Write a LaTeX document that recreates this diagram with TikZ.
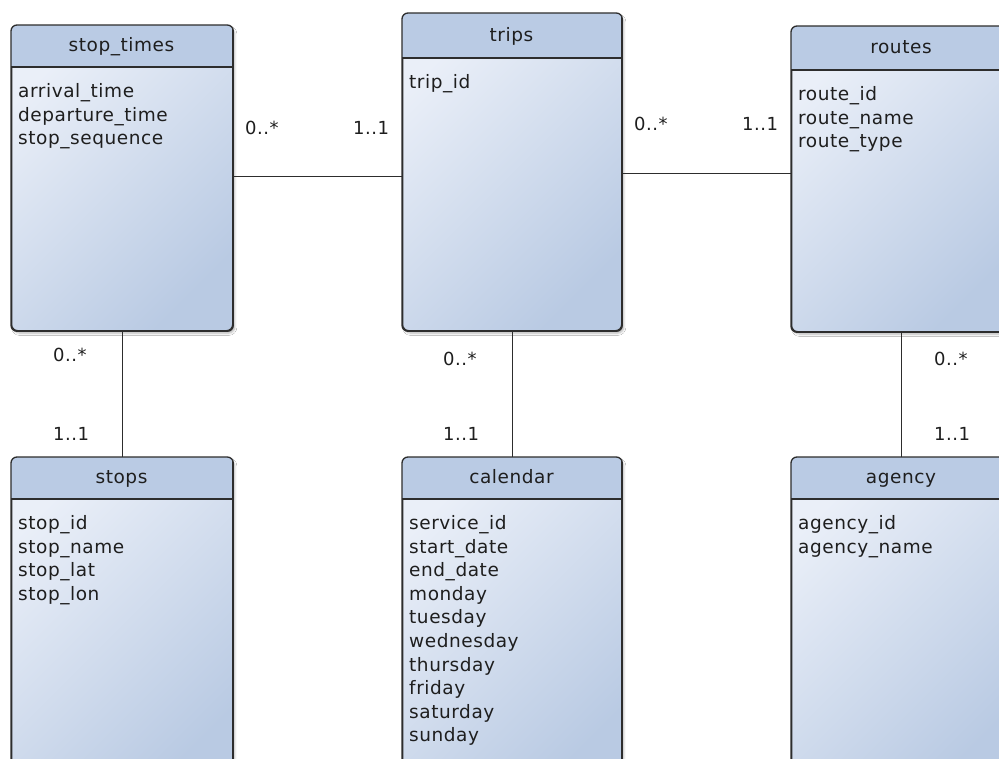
\documentclass[tikz,border=0pt]{standalone}
\usepackage{fontspec}
\setmainfont{DejaVu Sans}[LetterSpace=3]
\usetikzlibrary{shadows.blur,calc}
\definecolor{hdr}{RGB}{186,203,228}
\definecolor{bodyA}{RGB}{234,239,248}
\definecolor{bodyB}{RGB}{185,202,227}
\definecolor{edge}{RGB}{45,45,45}
\definecolor{txt}{RGB}{30,30,30}
\tikzset{
  umlbox/.style={draw=edge, line width=1.3pt, rounded corners=6pt, inner sep=0pt,
    anchor=north west, top color=bodyA, bottom color=bodyB, shading angle=45,
    blur shadow={shadow xshift=2pt, shadow yshift=-2.5pt, shadow blur steps=6, shadow opacity=30}},
  boxline/.style={draw=edge, line width=1.3pt},
  conn/.style={draw=edge, line width=1pt},
  ttl/.style={inner sep=0pt, anchor=base, text=txt, font=\fontsize{18.5}{22}\selectfont},
  attr/.style={inner sep=0pt, anchor=base west, text=txt, font=\fontsize{18.5}{22}\selectfont},
  mult/.style={inner sep=0pt, anchor=base west, text=txt, font=\fontsize{18}{22}\selectfont},
}
\newcommand\umlbox[8]{%
  \node[umlbox, minimum width={(#4-#2)*1pt}, minimum height={(#5-#3)*1pt}] (#1) at (#2,#3) {};
  \begin{scope}
    \clip[rounded corners=6pt] (#1.north west) rectangle (#1.south east);
    \fill[hdr] (#1.north west) rectangle (#4,#6);
  \end{scope}
  \draw[boxline] (#1.west |- 0,#6) -- (#1.east |- 0,#6);
  \draw[boxline, rounded corners=6pt] (#1.north west) rectangle (#1.south east);
  \node[ttl] (#1-t) at ({(#2+#4)/2},{(#3+#6)/2+5.5}) {#7};
  \foreach \t [count=\i from 0] in {#8}
    \node[attr] (#1-\i) at ({#2+7},{#6+30.5+23.6*\i}) {\t};
}
\begin{document}
\begin{tikzpicture}[x=1pt,y=-1pt]
\useasboundingbox (0,0) rectangle (999,758);
\clip (0,0) rectangle (999,758);
\fill[white] (0,0) rectangle (999,758);

\umlbox{st}{11}{25}{232}{330}{67}{stop\_times}{arrival\_time,departure\_time,stop\_sequence}
\umlbox{tr}{402}{13}{621}{330}{58}{trips}{trip\_id}
\umlbox{ro}{791}{26}{1011}{331}{70}{routes}{route\_id,route\_name,route\_type}
\umlbox{sp}{11}{457}{232}{790}{499}{stops}{stop\_id,stop\_name,stop\_lat,stop\_lon}
\umlbox{ca}{402}{457}{621}{790}{499}{calendar}{service\_id,start\_date,end\_date,monday,tuesday,wednesday,thursday,friday,saturday,sunday}
\umlbox{ag}{791}{457}{1011}{790}{499}{agency}{agency\_id,agency\_name}

\coordinate (h1) at (0,176);
\coordinate (h2) at (0,173);
\draw[conn] (st.east |- h1) -- (tr.west |- h1);
\draw[conn] (tr.east |- h2) -- (ro.west |- h2);
\draw[conn] (st.south) -- (sp.north);
\draw[conn] (tr.south) -- (ca.north);
\draw[conn] (ro.south) -- (ag.north);

\node[mult] (m1) at (245,134) {0..*};
\node[mult] (m2) at (353,134) {1..1};
\node[mult] (m3) at (634,130) {0..*};
\node[mult] (m4) at (742,130) {1..1};
\node[mult] (m5) at (53,361) {0..*};
\node[mult] (m6) at (53,440) {1..1};
\node[mult] (m7) at (443,365) {0..*};
\node[mult] (m8) at (443,440) {1..1};
\node[mult] (m9) at (934,365) {0..*};
\node[mult] (m10) at (934,440) {1..1};
\end{tikzpicture}
\end{document}
